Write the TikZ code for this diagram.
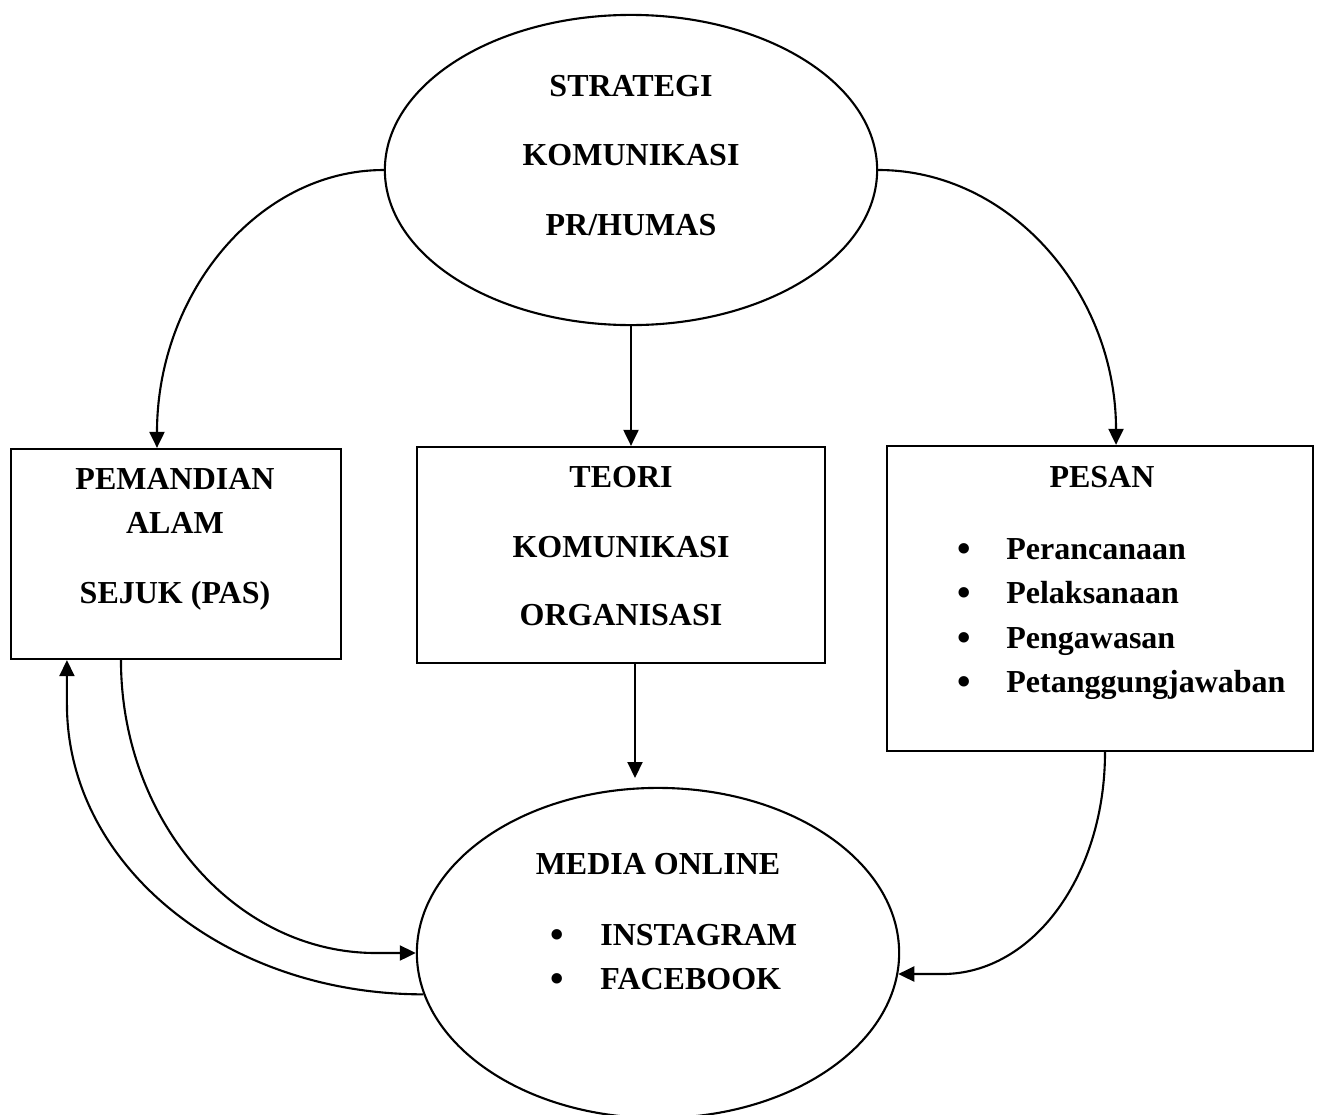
\documentclass[tikz,border=0pt]{standalone}
\usepackage{fontspec}
\setmainfont{Liberation Serif}
\usetikzlibrary{arrows.meta,shapes.geometric}

\newcommand{\bul}{\raisebox{-0.08em}{\scalebox{1.2}{\textbullet}}}

\tikzset{
  oval/.style={draw, ellipse, line width=0.6pt, inner sep=0pt},
  panel/.style={draw, rectangle, line width=0.6pt, inner sep=0pt},
  lbl/.style={font=\fontsize{9.1}{11}\selectfont\bfseries, anchor=base, inner sep=0pt},
  item/.style={lbl, anchor=base west},
  conn/.style={line width=0.6pt, -{Triangle[length=0.16cm, width=0.15cm]}},
}

\begin{document}
\begin{tikzpicture}[x=0.01cm, y=-0.01cm]
    \useasboundingbox (0,0) rectangle (1318,1115);
    % shapes
    \node[oval, minimum width=4.92cm, minimum height=3.10cm] (strat) at (631,170) {};
    \node[oval, minimum width=4.82cm, minimum height=3.30cm] (media) at (658,953) {};
    \node[panel, minimum width=3.30cm, minimum height=2.10cm] (pas) at (176,554) {};
    \node[panel, minimum width=4.08cm, minimum height=2.16cm] (teori) at (621,555) {};
    \node[panel, minimum width=4.26cm, minimum height=3.05cm] (pesan) at (1100,598.5) {};
    % texts
    \node[lbl] (strat1) at (631,96) {STRATEGI};
    \node[lbl] (strat2) at (631,165) {KOMUNIKASI};
    \node[lbl] (strat3) at (631,235) {PR/HUMAS};
    \node[lbl] (pas1) at (175,489) {PEMANDIAN};
    \node[lbl] (pas2) at (175,533) {ALAM};
    \node[lbl] (pas3) at (175,603) {SEJUK (PAS)};
    \node[lbl] (teori1) at (621,487) {TEORI};
    \node[lbl] (teori2) at (621,557) {KOMUNIKASI};
    \node[lbl] (teori3) at (621,625) {ORGANISASI};
    \node[lbl] (pesan0) at (1102,487) {PESAN};
    \node[item] (pesan1) at (957,559) {\makebox[0.486cm][l]{\bul}Perancanaan};
    \node[item] (pesan2) at (957,603) {\makebox[0.486cm][l]{\bul}Pelaksanaan};
    \node[item] (pesan3) at (957,648) {\makebox[0.486cm][l]{\bul}Pengawasan};
    \node[item] (pesan4) at (957,692) {\makebox[0.486cm][l]{\bul}Petanggungjawaban};
    \node[lbl] (media0) at (658,874) {MEDIA ONLINE};
    \node[item] (media1) at (550,945) {\makebox[0.496cm][l]{\bul}INSTAGRAM};
    \node[item] (media2) at (550,989) {\makebox[0.496cm][l]{\bul}FACEBOOK};
    % connectors
    \coordinate (mtop) at (635,778);
    \draw[conn] (strat.west) .. controls +(-126,0) and +(0,-154) .. ([xshift=-0.19cm]pas.north);
    \draw[conn] (strat.east) .. controls +(132,0) and +(0,-152) .. ([xshift=0.16cm]pesan.north);
    \draw[conn] (strat.south) -- (strat.south |- teori.north);
    \draw[conn] (teori.south -| mtop) -- (mtop);
    \draw[conn] ([xshift=-0.55cm]pas.south) .. controls +(0,160) and +(-141,0) .. ([xshift=-0.4cm]media.west) -- (media.west);
    \draw[conn] (media.190) .. controls +(-198,0) and +(0,161) .. ([xshift=-1.09cm,yshift=-0.44cm]pas.south) -- ([xshift=-1.09cm]pas.south);
    \draw[conn] ([xshift=0.05cm]pesan.south) .. controls +(0,123) and +(91,0) .. ([xshift=0.44cm]media.-5) -- (media.-5);
\end{tikzpicture}
\end{document}
